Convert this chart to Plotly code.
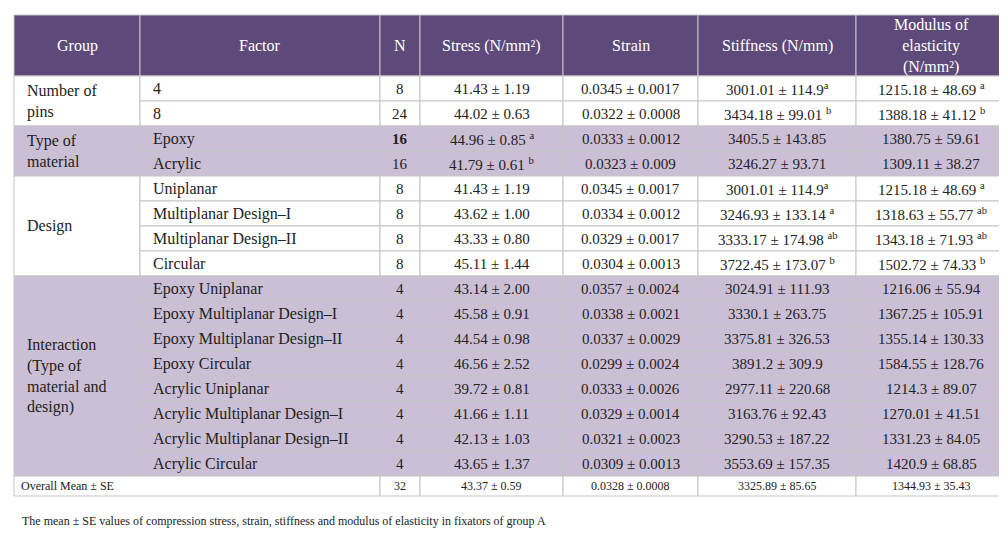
import plotly.graph_objects as go

headers = ['Group', 'Factor', 'N', 'Stress (N/mm²)', 'Strain', 'Stiffness (N/mm)',
           'Modulus of<br>elasticity<br>(N/mm²)']
groups = ['Number of<br>pins', 'Type of<br>material', 'Design',
          'Interaction<br>(Type of<br>material and<br>design)']
group_rows = [2, 2, 4, 8]
group_shaded = [False, True, False, True]
factors = ['4', '8', 'Epoxy', 'Acrylic', 'Uniplanar', 'Multiplanar Design–I',
           'Multiplanar Design–II', 'Circular', 'Epoxy Uniplanar',
           'Epoxy Multiplanar Design–I', 'Epoxy Multiplanar Design–II', 'Epoxy Circular',
           'Acrylic Uniplanar', 'Acrylic Multiplanar Design–I',
           'Acrylic Multiplanar Design–II', 'Acrylic Circular']
n_vals = ['8', '24', '<b>16</b>', '16', '8', '8', '8', '8', '4', '4', '4', '4', '4', '4', '4', '4']
stress = ['41.43 ± 1.19', '44.02 ± 0.63', '44.96 ± 0.85 <sup>a</sup>', '41.79 ± 0.61 <sup>b</sup>',
          '41.43 ± 1.19', '43.62 ± 1.00', '43.33 ± 0.80', '45.11 ± 1.44',
          '43.14 ± 2.00', '45.58 ± 0.91', '44.54 ± 0.98', '46.56 ± 2.52',
          '39.72 ± 0.81', '41.66 ± 1.11', '42.13 ± 1.03', '43.65 ± 1.37']
strain = ['0.0345 ± 0.0017', '0.0322 ± 0.0008', '0.0333 ± 0.0012', '0.0323 ± 0.009',
          '0.0345 ± 0.0017', '0.0334 ± 0.0012', '0.0329 ± 0.0017', '0.0304 ± 0.0013',
          '0.0357 ± 0.0024', '0.0338 ± 0.0021', '0.0337 ± 0.0029', '0.0299 ± 0.0024',
          '0.0333 ± 0.0026', '0.0329 ± 0.0014', '0.0321 ± 0.0023', '0.0309 ± 0.0013']
stiffness = ['3001.01 ± 114.9<sup>a</sup>', '3434.18 ± 99.01 <sup>b</sup>', '3405.5 ± 143.85', '3246.27 ± 93.71',
             '3001.01 ± 114.9<sup>a</sup>', '3246.93 ± 133.14 <sup>a</sup>', '3333.17 ± 174.98 <sup>ab</sup>',
             '3722.45 ± 173.07 <sup>b</sup>',
             '3024.91 ± 111.93', '3330.1 ± 263.75', '3375.81 ± 326.53', '3891.2 ± 309.9',
             '2977.11 ± 220.68', '3163.76 ± 92.43', '3290.53 ± 187.22', '3553.69 ± 157.35']
modulus = ['1215.18 ± 48.69 <sup>a</sup>', '1388.18 ± 41.12 <sup>b</sup>', '1380.75 ± 59.61', '1309.11 ± 38.27',
           '1215.18 ± 48.69 <sup>a</sup>', '1318.63 ± 55.77 <sup>ab</sup>', '1343.18 ± 71.93 <sup>ab</sup>',
           '1502.72 ± 74.33 <sup>b</sup>',
           '1216.06 ± 55.94', '1367.25 ± 105.91', '1355.14 ± 130.33', '1584.55 ± 128.76',
           '1214.3 ± 89.07', '1270.01 ± 41.51', '1331.23 ± 84.05', '1420.9 ± 68.85']
overall = ['Overall Mean ± SE', '', '32', '43.37 ± 0.59', '0.0328 ± 0.0008',
           '3325.89 ± 85.65', '1344.93 ± 35.43']
caption = ('The mean ± SE values of compression stress, strain, stiffness and modulus '
           'of elasticity in fixators of group A')

col_edges = [6, 132, 372, 412, 555, 690, 848, 998]
header_top, header_bottom = 7, 68
row_h = 25
overall_h = 20

HEAD = '#5e4a7a'
SHADE = '#cbbfd6'
LINE = '#c4c4c4'
FONT = 'Liberation Serif'

fig = go.Figure()
shapes, ann = [], []

def rect(x0, y0, x1, y1, fill):
    shapes.append(dict(type='rect', xref='x', yref='y', x0=x0, y0=y0, x1=x1, y1=y1,
                       fillcolor=fill, line=dict(color=LINE, width=1), layer='below'))

def text(x, y, s, size=15, color='#222', anchor='center'):
    ann.append(dict(x=x, y=y, xref='x', yref='y', text=s, showarrow=False, xanchor=anchor,
                    align=anchor, yanchor='middle',
                    font=dict(family=FONT, size=size, color=color)))

# header
for i, h in enumerate(headers):
    x0, x1 = col_edges[i], col_edges[i + 1]
    rect(x0, header_top, x1, header_bottom, HEAD)
    text((x0 + x1) / 2, (header_top + header_bottom) / 2, h, 16, 'white')

# body
y = header_bottom
r = 0
for g, nr, sh in zip(groups, group_rows, group_shaded):
    fill = SHADE if sh else 'white'
    rect(col_edges[0], y, col_edges[1], y + nr * row_h, fill)
    text(col_edges[0] + 11, y + nr * row_h / 2, g, 16, anchor='left')
    for k in range(nr):
        y0 = y + k * row_h
        cells = [factors[r], n_vals[r], stress[r], strain[r], stiffness[r], modulus[r]]
        for c, s in enumerate(cells):
            x0, x1 = col_edges[c + 1], col_edges[c + 2]
            rect(x0, y0, x1, y0 + row_h, fill)
            if c == 0:
                text(x0 + 11, y0 + row_h / 2, s, 16, anchor='left')
            else:
                text((x0 + x1) / 2, y0 + row_h / 2, s, 15)
        r += 1
    y += nr * row_h

# overall row
for c, s in enumerate(overall):
    x0, x1 = col_edges[c], col_edges[c + 1]
    if c == 1:
        continue
    if c == 0:
        rect(col_edges[0], y, col_edges[2], y + overall_h, 'white')
        text(x0 + 5, y + overall_h / 2, s, 12, anchor='left')
    else:
        rect(x0, y, x1, y + overall_h, 'white')
        text((x0 + x1) / 2, y + overall_h / 2, s, 12)

text(12, y + overall_h + 25, caption, 12, anchor='left')

fig.update_layout(
    width=1007, height=538,
    margin=dict(l=0, r=0, t=0, b=0),
    paper_bgcolor='white', plot_bgcolor='white',
    xaxis=dict(range=[0, 1007], visible=False, fixedrange=True),
    yaxis=dict(range=[538, 0], visible=False, fixedrange=True),
    shapes=shapes, annotations=ann, showlegend=False)

fig.write_html('out.html')
